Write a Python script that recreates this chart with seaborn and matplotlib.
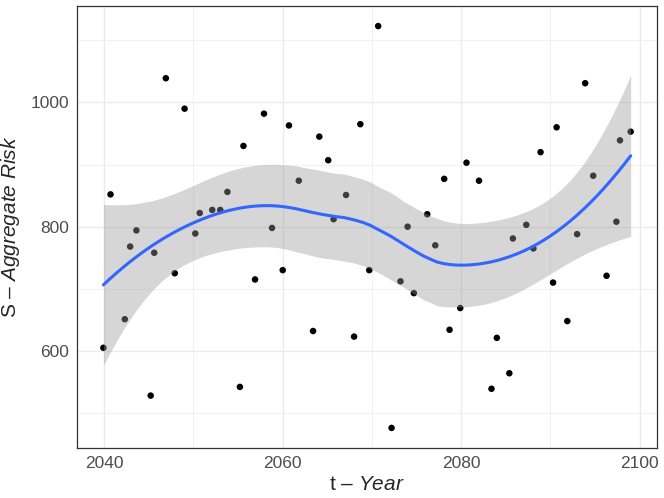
import numpy as np
import pandas as pd
import matplotlib
matplotlib.use("Agg")
import matplotlib.pyplot as plt
import seaborn as sns

# values
years = [2039.9, 2040.7, 2042.3, 2042.9, 2043.6, 2045.2, 2045.6, 2046.9, 2047.9, 2049.0,
         2050.2, 2050.7, 2052.1, 2053.0, 2053.8, 2055.2, 2055.6, 2056.9, 2057.9, 2058.8,
         2060.0, 2060.7, 2061.8, 2063.4, 2064.1, 2065.1, 2065.7, 2067.1, 2068.0, 2068.7,
         2069.7, 2070.7, 2072.2, 2073.2, 2074.0, 2074.7, 2076.2, 2077.1, 2078.1, 2078.7,
         2079.9, 2080.6, 2082.0, 2083.4, 2084.0, 2085.4, 2085.8, 2087.3, 2088.1, 2088.9,
         2090.3, 2090.7, 2091.9, 2093.0, 2093.9, 2094.8, 2096.3, 2097.4, 2097.8, 2099.0]
risk = [605, 852, 651, 768, 794, 528, 758, 1039, 725, 990,
        789, 822, 827, 827, 856, 542, 930, 715, 982, 798,
        730, 963, 874, 632, 945, 907, 812, 851, 623, 965,
        730, 1123, 476, 712, 800, 693, 820, 770, 877, 634,
        669, 903, 874, 539, 621, 564, 781, 803, 765, 920,
        710, 960, 648, 788, 1031, 882, 721, 808, 939, 953]

x_ticks = [2040, 2060, 2080, 2100]
y_ticks = [600, 800, 1000]


def loess_rows(x, x0, span=0.75):
    """Operator rows of a local quadratic fit (tricube weights)"""
    n = len(x)
    q = int(np.floor(span * n))
    rows = []
    for p in x0:
        d = np.abs(x - p)
        h = np.sort(d)[q - 1]
        w = np.clip(1 - (d / h) ** 3, 0, None) ** 3
        X = np.column_stack([np.ones(n), x - p, (x - p) ** 2])
        XtW = X.T * w
        rows.append(np.linalg.solve(XtW @ X, XtW)[0])
    return np.array(rows)


def loess_band(x, y, grid):
    L = loess_rows(x, x)
    res = y - L @ y
    M = np.eye(len(x)) - L
    MM = M.T @ M
    d1 = np.trace(MM)
    d2 = np.trace(MM @ MM)
    s = np.sqrt(np.sum(res ** 2) / d1)
    df = d1 ** 2 / d2
    z = 1.959964
    t = z + (z ** 3 + z) / (4 * df) + (5 * z ** 5 + 16 * z ** 3 + 3 * z) / (96 * df ** 2)
    Lg = loess_rows(x, grid)
    fit = Lg @ y
    se = s * np.sqrt(np.sum(Lg ** 2, axis=1))
    return fit, fit - t * se, fit + t * se


df = pd.DataFrame({"year": years, "risk": risk})
xv = df["year"].to_numpy(float)
yv = df["risk"].to_numpy(float)
grid = np.linspace(xv.min(), xv.max(), 80)
fit, lo, hi = loess_band(xv, yv, grid)
smooth = pd.DataFrame({"year": grid, "fit": fit})

sns.set_style("white")
plt.rcParams["font.family"] = ["Liberation Sans", "DejaVu Sans"]
plt.rcParams["mathtext.fontset"] = "custom"
plt.rcParams["mathtext.rm"] = "Liberation Sans"
plt.rcParams["mathtext.it"] = "Liberation Sans:italic"

fig = plt.figure(figsize=(6.64, 4.98), dpi=100)
ax = fig.add_axes([0.116, 0.1004, 0.8735, 0.8876])

sns.scatterplot(data=df, x="year", y="risk", color="black", s=22,
                edgecolor="none", ax=ax, zorder=2)
ax.fill_between(grid, lo, hi, color="#999999", alpha=0.4, linewidth=0, zorder=3)
sns.lineplot(data=smooth, x="year", y="fit", color="#3366FF", linewidth=2.2,
             ax=ax, zorder=4)

xr = xv.max() - xv.min()
yr = yv.max() - yv.min()
ax.set_xlim(xv.min() - 0.05 * xr, xv.max() + 0.05 * xr)
ax.set_ylim(yv.min() - 0.05 * yr, yv.max() + 0.05 * yr)

ax.set_xticks(x_ticks)
ax.set_yticks(y_ticks)
ax.set_xticks([2050, 2070, 2090], minor=True)
ax.set_yticks([500, 700, 900, 1100], minor=True)
ax.grid(True, which="major", color="#EBEBEB", linewidth=1.0, zorder=0)
ax.grid(True, which="minor", color="#EBEBEB", linewidth=0.5, zorder=0)
ax.set_axisbelow(True)

ax.tick_params(which="major", direction="out", length=3.5, width=0.8,
               color="#333333", labelcolor="#4D4D4D", labelsize=12.5, pad=2)
ax.tick_params(which="minor", length=0)
for sp in ax.spines.values():
    sp.set_color("#333333")
    sp.set_linewidth(0.9)

ax.set_xlabel(r"t – $\mathit{Year}$", fontsize=15, labelpad=3)
ax.set_ylabel(r"S – $\mathit{Aggregate\ Risk}$", fontsize=15, labelpad=6)

fig.savefig("out.png", dpi=100)
